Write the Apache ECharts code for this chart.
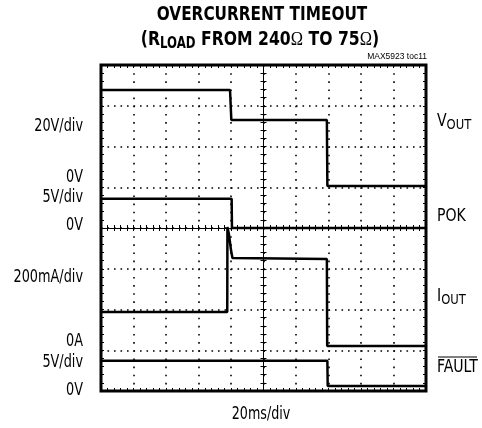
<!DOCTYPE html>
<html lang="en">
<head>
  <meta charset="UTF-8">
  <title>Overcurrent timeout</title>
  <script src="https://cdn.jsdelivr.net/npm/echarts@6/dist/echarts.min.js"></script>
  <style>html, body { margin: 0; padding: 0; background: #fff; }</style>
</head>
<body>
<div id="main" style="width: 482px;height:428px;"></div>
<script type="text/javascript">

// time in ms from screen centre, 20ms/div
const vOutTime = [-100, -20.6, -19.8, 39.0, 39.3, 100];
const vOutVolts = [47.1, 47.1, 32.4, 32.4, 0, 0];
const pokTime = [-100, -19.6, -19.4, 100];
const pokVolts = [3.6, 3.6, 0, 0];
const iOutTime = [-100, -22.3, -22.2, -21.2, -20.0, -19.1, 39.0, 39.2, 100];
const iOutMilliamps = [167, 167, 584, 545, 471, 432, 427, 0, 0];
const faultTime = [-100, 39.3, 39.5, 100];
const faultVolts = [3.1, 3.1, 0, 0];

// scope channel setup: units per division and where 0 sits (in divisions from centre)
const channels = [
  {time: vOutTime, value: vOutVolts, perDiv: 20, zero: 1.03},
  {time: pokTime, value: pokVolts, perDiv: 5, zero: 0},
  {time: iOutTime, value: iOutMilliamps, perDiv: 200, zero: -2.896},
  {time: faultTime, value: faultVolts, perDiv: 5, zero: -3.877}
];

const FONT = "'Liberation Sans Narrow', 'DejaVu Sans Condensed', sans-serif";

const myChart = echarts.init(document.getElementById('main'));

function frameAxis(pos, withSplit, dash) {
  const isY = pos === 'left' || pos === 'right';
  return {
    type: 'value', min: isY ? -4 : -100, max: isY ? 4 : 100, interval: isY ? 1 : 20,
    position: pos,
    axisLine: {show: false, onZero: false},
    axisTick: {show: true, inside: true, length: 3, lineStyle: {color: '#000', width: 1}},
    minorTick: {show: true, splitNumber: 5, length: 3, lineStyle: {color: '#000', width: 1}},
    axisLabel: {show: false},
    splitLine: {show: withSplit, lineStyle: {color: '#000', width: 1.6, type: dash}}
  };
}

function centreAxis(dim, inside) {
  const isY = dim === 'y';
  return {
    type: 'value', min: isY ? -4 : -100, max: isY ? 4 : 100, interval: isY ? 1 : 20,
    position: isY ? 'left' : 'bottom',
    axisLine: {show: true, onZero: true, lineStyle: {color: '#000', width: 1}},
    axisTick: {show: true, inside: inside, length: 3, lineStyle: {color: '#000', width: 1}},
    minorTick: {show: true, splitNumber: 5, length: 3, lineStyle: {color: '#000', width: 1}},
    axisLabel: {show: false},
    splitLine: {show: false}
  };
}

function txt(text, x, y, align, sx, extra) {
  return {
    type: 'text', x: x, y: y, scaleX: sx, silent: true,
    style: Object.assign({
      text: text, textAlign: align, textVerticalAlign: 'middle',
      fontFamily: FONT, fontSize: 17, fill: '#000'
    }, extra || {})
  };
}

const subRich = {
  m: {fontFamily: FONT, fontSize: 17, lineHeight: 20, verticalAlign: 'middle'},
  s: {fontFamily: FONT, fontSize: 14, lineHeight: 14, verticalAlign: 'bottom'}
};

const option = {
  animation: false,
  grid: {left: 101, right: 56, top: 65, height: 326, show: true, borderColor: '#000', borderWidth: 3},
  xAxis: [
    frameAxis('bottom', true, [1.6, 6.55]),
    frameAxis('top', false),
    centreAxis('x', false),
    centreAxis('x', true)
  ],
  yAxis: [
    frameAxis('left', true, [1.6, 4.9]),
    frameAxis('right', false),
    centreAxis('y', false),
    centreAxis('y', true)
  ],
  series: channels.map(ch => ({
    type: 'line',
    showSymbol: false,
    silent: true,
    z: 5,
    lineStyle: {color: '#000', width: 2.5},
    data: ch.time.map((t, i) => [t, ch.value[i] / ch.perDiv + ch.zero])
  })),
  graphic: [
    txt('OVERCURRENT TIMEOUT', 262, 15, 'center', 0.85, {fontWeight: 'bold', fontSize: 20}),
    txt('{b|(R}{s|LOAD}{b| FROM 240}{o|Ω}{b| TO 75}{o|Ω}{b|)}', 260, 40, 'center', 0.87, {
      rich: {
        b: {fontFamily: FONT, fontWeight: 'bold', fontSize: 20, lineHeight: 24, verticalAlign: 'middle'},
        s: {fontFamily: FONT, fontWeight: 'bold', fontSize: 15, lineHeight: 15, verticalAlign: 'bottom'},
        o: {fontFamily: "'Liberation Serif', serif", fontSize: 19, lineHeight: 24, verticalAlign: 'middle'}
      }
    }),
    txt('MAX5923 toc11', 427, 57, 'right', 1, {fontFamily: "'Liberation Sans', sans-serif", fontSize: 8.5}),
    txt('20V/div', 83, 127, 'right', 0.84),
    txt('0V', 83, 178, 'right', 0.84),
    txt('5V/div', 83, 198, 'right', 0.84),
    txt('0V', 83, 226, 'right', 0.84),
    txt('200mA/div', 83, 278, 'right', 0.84),
    txt('0A', 83, 342, 'right', 0.84),
    txt('5V/div', 83, 363, 'right', 0.84),
    txt('0V', 83, 391, 'right', 0.84),
    txt('{m|V}{s|OUT}', 437, 122, 'left', 0.92, {rich: subRich}),
    txt('POK', 437, 217, 'left', 0.92),
    txt('{m|I}{s|OUT}', 437, 297, 'left', 0.92, {rich: subRich}),
    txt('FAULT', 437, 368, 'left', 0.92),
    {type: 'line', silent: true, shape: {x1: 438, y1: 357, x2: 477, y2: 357}, style: {stroke: '#000', lineWidth: 1}},
    txt('20ms/div', 261, 415, 'center', 0.83)
  ]
};
myChart.setOption(option);
</script>
</body>
</html>
